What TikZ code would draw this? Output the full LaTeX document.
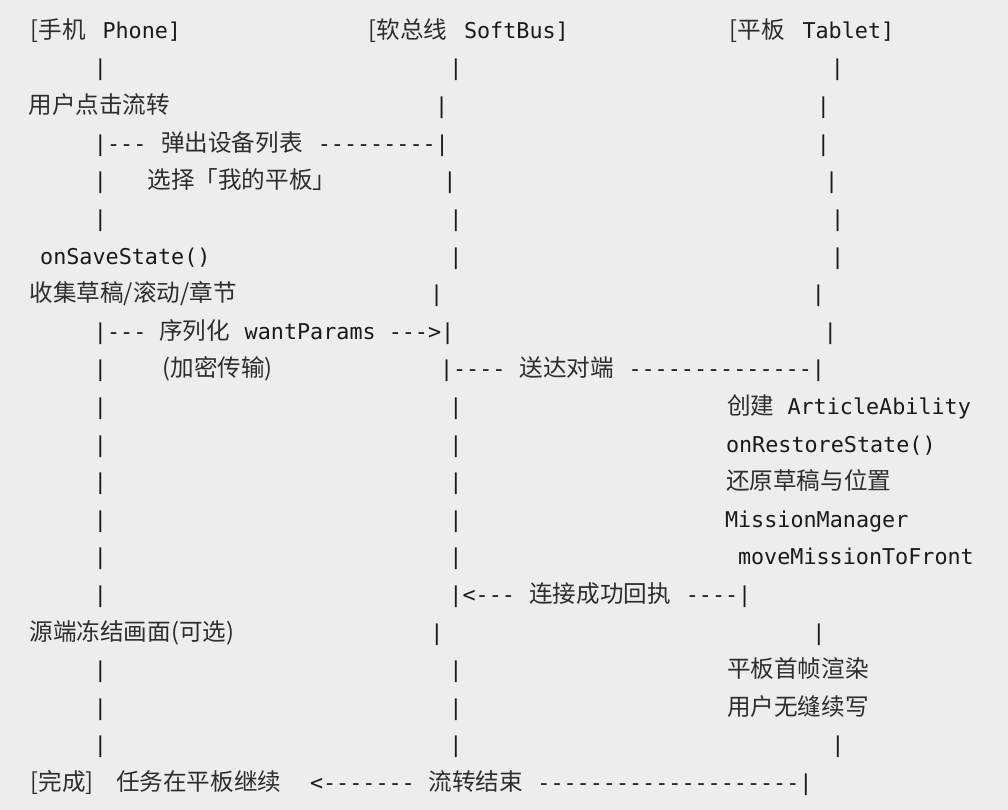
\documentclass[tikz,border=0pt]{standalone}
\usepackage{fontspec}
\newfontfamily\monofam[Ligatures=TeXOff]{DejaVu Sans Mono}
\newfontfamily\cjkfam{Noto Sans CJK SC}
\newcommand\monof{\monofam\fontsize{21.76}{26}\selectfont}
\newcommand\cjkf{\cjkfam\fontsize{23.6}{28}\selectfont}
\definecolor{bgc}{RGB}{237,237,237}
\definecolor{ink}{RGB}{26,26,26}
\definecolor{cjkink}{RGB}{45,45,45}
\begin{document}
\begin{tikzpicture}[x=1pt,y=-1pt,
  every node/.style={inner sep=0pt,outer sep=0pt},
  txt/.style={anchor=base west,font=\monof,text=ink},
  cj/.style={anchor=base west,font=\cjkf,text=cjkink},
  bar/.style={anchor=base,font=\monof,text=ink}]
\fill[bgc] (0,0) rectangle (1008,810);
\useasboundingbox (0,0) rectangle (1008,810);
% row 1
\node[cj]  (h1a) at (30.5,38.4) {[手机};
\node[txt] (h1b) at (102.5,38.4) {Phone]};
\node[cj]  (h2a) at (368.5,38.4) {[软总线};
\node[txt] (h2b) at (464,38.4) {SoftBus]};
\node[cj]  (h3a) at (729.5,38.4) {[平板};
\node[txt] (h3b) at (802.5,38.4) {Tablet]};
% row 2
\node[bar] (r2a) at (100.5,76.0) {|};
\node[bar] (r2b) at (456,76.0) {|};
\node[bar] (r2c) at (837.3,76.0) {|};
% row 3
\node[cj]  (r3a) at (28.5,113.6) {用户点击流转};
\node[bar] (r3b) at (441.7,113.6) {|};
\node[bar] (r3c) at (823.3,113.6) {|};
% row 4
\node[txt] (r4a) at (93.95,151.2) {|---};
\node[cj]  (r4b) at (161,151.2) {弹出设备列表};
\node[txt] (r4c) at (317.8,151.2) {---------|};
\node[bar] (r4d) at (823.3,151.2) {|};
% row 5
\node[bar] (r5a) at (100.5,188.8) {|};
\node[cj]  (r5b) at (147.5,188.8) {选择「我的平板」};
\node[bar] (r5c) at (450,188.8) {|};
\node[bar] (r5d) at (831.7,188.8) {|};
% row 6
\node[bar] (r6a) at (100.5,226.4) {|};
\node[bar] (r6b) at (456,226.4) {|};
\node[bar] (r6c) at (837.7,226.4) {|};
% row 7
\node[txt] (r7a) at (40.2,264.0) {onSaveState()};
\node[bar] (r7b) at (456,264.0) {|};
\node[bar] (r7c) at (837.7,264.0) {|};
% row 8
\node[cj]  (r8a) at (29.5,301.6) {收集草稿/滚动/章节};
\node[bar] (r8b) at (436.7,301.6) {|};
\node[bar] (r8c) at (818.3,301.6) {|};
% row 9
\node[txt] (r9a) at (93.95,339.2) {|---};
\node[cj]  (r9b) at (159.3,339.2) {序列化};
\node[txt] (r9c) at (244.7,339.2) {wantParams --->|};
\node[bar] (r9d) at (830.4,339.2) {|};
% row 10
\node[bar] (r10a) at (100.5,376.8) {|};
\node[cj]  (r10b) at (162.5,376.8) {(加密传输)};
\node[txt] (r10c) at (440,376.8) {|----};
\node[cj]  (r10d) at (519.5,376.8) {送达对端};
\node[txt] (r10e) at (628.5,376.8) {--------------|};
% row 11
\node[bar] (r11a) at (100.5,414.4) {|};
\node[bar] (r11b) at (456,414.4) {|};
\node[cj]  (r11c) at (727,414.4) {创建};
\node[txt] (r11d) at (787.5,414.4) {ArticleAbility};
% row 12
\node[bar] (r12a) at (100.5,452.0) {|};
\node[bar] (r12b) at (456,452.0) {|};
\node[txt] (r12c) at (726,452.0) {onRestoreState()};
% row 13
\node[bar] (r13a) at (100.5,489.6) {|};
\node[bar] (r13b) at (456,489.6) {|};
\node[cj]  (r13c) at (726,489.6) {还原草稿与位置};
% row 14
\node[bar] (r14a) at (100.5,527.2) {|};
\node[bar] (r14b) at (456,527.2) {|};
\node[txt] (r14c) at (725,527.2) {MissionManager};
% row 15
\node[bar] (r15a) at (100.5,564.8) {|};
\node[bar] (r15b) at (456,564.8) {|};
\node[txt] (r15c) at (738,564.8) {moveMissionToFront};
% row 16
\node[bar] (r16a) at (100.5,602.4) {|};
\node[txt] (r16b) at (449.45,602.4) {|<---};
\node[cj]  (r16c) at (529.3,602.4) {连接成功回执};
\node[txt] (r16d) at (685.8,602.4) {----|};
% row 17
\node[cj]  (r17a) at (29.5,640.0) {源端冻结画面(可选)};
\node[bar] (r17b) at (436.8,640.0) {|};
\node[bar] (r17c) at (818.8,640.0) {|};
% row 18
\node[bar] (r18a) at (100.5,677.6) {|};
\node[bar] (r18b) at (456,677.6) {|};
\node[cj]  (r18c) at (727,677.6) {平板首帧渲染};
% row 19
\node[bar] (r19a) at (100.5,715.2) {|};
\node[bar] (r19b) at (456,715.2) {|};
\node[cj]  (r19c) at (727,715.2) {用户无缝续写};
% row 20
\node[bar] (r20a) at (100.5,752.8) {|};
\node[bar] (r20b) at (456,752.8) {|};
\node[bar] (r20c) at (838,752.8) {|};
% row 21
\node[cj]  (r21a) at (30.5,790.4) {[完成]};
\node[cj]  (r21b) at (116,790.4) {任务在平板继续};
\node[txt] (r21c) at (310,790.4) {<-------};
\node[cj]  (r21d) at (428.5,790.4) {流转结束};
\node[txt] (r21e) at (537.4,790.4) {--------------------|};
\end{tikzpicture}
\end{document}
